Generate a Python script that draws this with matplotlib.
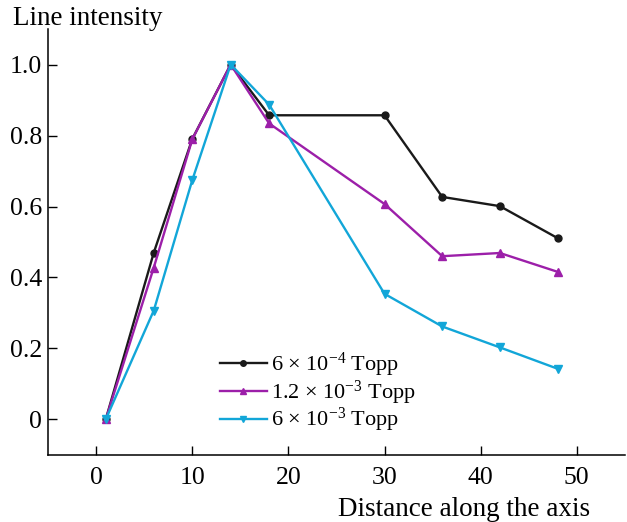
import matplotlib
matplotlib.use("Agg")
import matplotlib.pyplot as plt

plt.rcParams["font.family"] = ["Liberation Serif", "DejaVu Serif"]
plt.rcParams["mathtext.fontset"] = "custom"
plt.rcParams["mathtext.rm"] = "Liberation Serif"
plt.rcParams["mathtext.it"] = "Liberation Serif:italic"

# distance along the axis and normalised line intensity for three pressures
distance = [1, 6, 10, 14, 18, 30, 36, 42, 48]
intensity_low = [0.0, 0.47, 0.79, 1.0, 0.857, 0.857, 0.627, 0.601, 0.511]
intensity_mid = [0.0, 0.428, 0.789, 1.0, 0.834, 0.607, 0.460, 0.469, 0.416]
intensity_high = [0.0, 0.307, 0.674, 1.0, 0.887, 0.354, 0.262, 0.203, 0.143]

labels = ["6 \u00d7 10$^{-4}$ Topp",
          "1.2 \u00d7 10$^{-3}$ Topp",
          "6 \u00d7 10$^{-3}$ Topp"]
xticks = [0, 10, 20, 30, 40, 50]
yticks = [0, 0.2, 0.4, 0.6, 0.8, 1.0]
yticklabels = ["0", "0.2", "0.4", "0.6", "0.8", "1.0"]

fig = plt.figure(figsize=(6.27, 5.22), dpi=100)
ax = fig.add_axes([0.0766, 0.1284, 0.920, 0.816])

ax.plot(distance, intensity_low, color="#1a1a1a", marker="o", markersize=5,
        linewidth=1.7, label=labels[0])
ax.plot(distance, intensity_mid, color="#9c1fa9", marker="^", markersize=5.5,
        linewidth=1.7, label=labels[1])
ax.plot(distance, intensity_high, color="#12a6d8", marker="v", markersize=5.5,
        linewidth=1.7, label=labels[2])

ax.set_xlim(-5, 55)
ax.set_ylim(-0.1, 1.1)
ax.set_xticks(xticks)
ax.set_yticks(yticks)
ax.set_yticklabels(yticklabels)
ax.tick_params(direction="in", length=6.5, width=1, labelsize=18.5)
ax.tick_params(axis="x", pad=8.5)
ax.tick_params(axis="y", pad=4.5)
ax.spines["top"].set_visible(False)
ax.spines["right"].set_visible(False)
for s in ("left", "bottom"):
    ax.spines[s].set_linewidth(1.1)

fig.text(0.0207, 0.952, "Line intensity", fontsize=19.5, ha="left", va="baseline")
fig.text(0.941, 0.0115, "Distance along the axis", fontsize=19.5, ha="right", va="baseline")

ax.legend(loc="upper left", bbox_to_anchor=(0.351, 0.328), bbox_transform=fig.transFigure,
          frameon=False, fontsize=16, handlelength=2.1, handletextpad=0.2,
          labelspacing=-0.02, borderpad=0, borderaxespad=0, markerscale=0.8)

fig.savefig("out.png", dpi=100)
